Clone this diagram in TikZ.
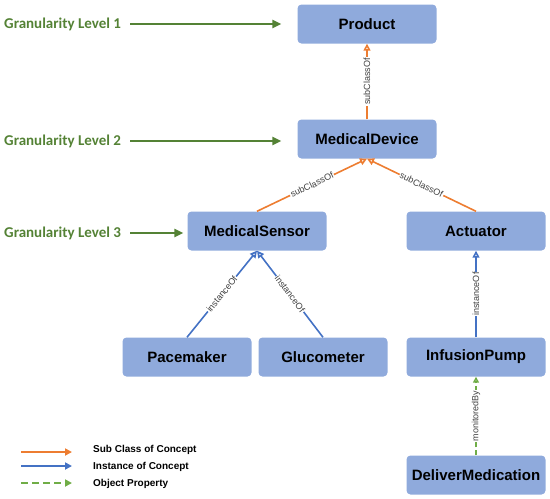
\documentclass[tikz,border=0pt]{standalone}
\usepackage{fontspec}
\setmainfont{Liberation Sans}
\newfontfamily\carlito{Carlito}
\usetikzlibrary{arrows.meta, positioning, calc}

\definecolor{subcls}{HTML}{ED7D31}
\definecolor{inst}{HTML}{4472C4}
\definecolor{objprop}{HTML}{70AD47}
\definecolor{levelgreen}{HTML}{548235}
\definecolor{conceptfill}{HTML}{8FAADC}

\begin{document}
\begin{tikzpicture}[
    x=1pt, y=-1pt,
    concept/.style={fill=conceptfill, rounded corners=4pt, minimum height=39pt, minimum width=139pt, inner sep=2pt, font=\fontsize{15}{17}\selectfont\bfseries},
    small/.style={concept, minimum width=129pt},
    elabel/.style={font=\fontsize{9}{10}\selectfont, text=black!75, fill=white, inner sep=0.8pt, sloped, pos=0.5},
    subof/.style={-{Triangle[open, length=7pt, width=7pt]}, subcls, line width=1.6pt},
    instof/.style={-{Triangle[open, length=7pt, width=7pt]}, inst, line width=1.6pt},
    monby/.style={-{Triangle[open, length=6pt, width=6pt]}, objprop, line width=1.6pt, dash pattern=on 5pt off 3pt},
    level/.style={font=\carlito\fontsize{15}{17}\selectfont\bfseries, text=levelgreen, anchor=west, inner sep=0pt},
    gran/.style={-{Triangle[length=9pt, width=8pt]}, levelgreen, line width=2.4pt},
    legtext/.style={font=\fontsize{10}{12}\selectfont\bfseries, anchor=west, inner sep=0pt},
    legarr/.style={-{Triangle[length=7pt, width=7pt]}, line width=2pt},
]
\useasboundingbox (0,0) rectangle (550,499);

% concepts
\node[concept] (Product) at (367, 24) {Product};
\node[concept] (MedDevice) at (367, 139) {MedicalDevice};
\node[concept] (MedSensor) at (257, 231) {MedicalSensor};
\node[concept] (Actuator) at (476, 231) {Actuator};
\node[small] (Pacemaker) at (187, 357) {Pacemaker};
\node[small] (Glucometer) at (323, 357) {Glucometer};
\node[concept] (InfPump) at (476, 357) {InfusionPump};
\node[concept] (DelivMed) at (476, 475) {DeliverMedication};

% relations
\draw[subof] (MedDevice) -- node[elabel] {subClassOf} (Product);
\draw[subof] (MedSensor.north) -- node[elabel] {subClassOf} (MedDevice.south);
\draw[subof] (Actuator.north) -- node[elabel] {subClassOf} (MedDevice.south);
\draw[instof] (Pacemaker.north) -- node[elabel] {instanceOf} (MedSensor.south);
\draw[instof] (Glucometer.north) -- node[elabel] {instanceOf} (MedSensor.south);
\draw[instof] (InfPump) -- node[elabel] {instanceOf} (Actuator);
\draw[monby] (DelivMed) -- node[elabel] {monitoredBy} (InfPump);

% granularity levels
\node[level] (lvl1) at (4, 24) {Granularity Level 1};
\node[level] (lvl2) at (4, 141) {Granularity Level 2};
\node[level] (lvl3) at (4, 233) {Granularity Level 3};
\draw[gran] ([xshift=9pt]lvl1.east) -- ([xshift=-16pt]lvl1 -| Product.west);
\draw[gran] ([xshift=9pt]lvl2.east) -- ([xshift=-16pt]lvl2 -| MedDevice.west);
\draw[gran] ([xshift=9pt]lvl3.east) -- ([xshift=-4pt]lvl3 -| MedSensor.west);

% legend
\node[legtext] (legSub) at (93, 450) {Sub Class of Concept};
\node[legtext] (legInst) at (93, 467) {Instance of Concept};
\node[legtext] (legObj) at (93, 484) {Object Property};
\coordinate (ls) at (21, 452);
\coordinate (li) at (21, 466);
\coordinate (lo) at (21, 483);
\draw[legarr, subcls] (ls) -- (ls -| 72, 0);
\draw[legarr, inst] (li) -- (li -| 72, 0);
\draw[legarr, objprop, dash pattern=on 7pt off 4pt] (lo) -- (lo -| 72, 0);

\end{tikzpicture}
\end{document}
